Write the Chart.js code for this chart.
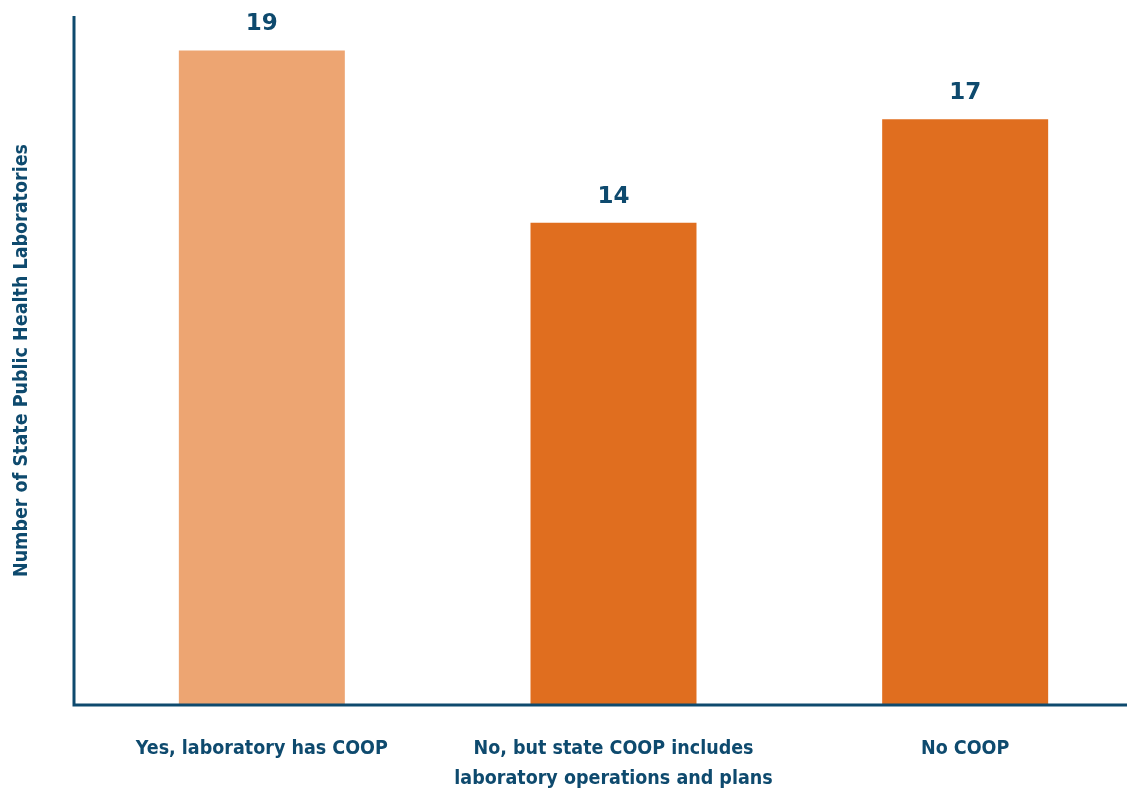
<!DOCTYPE html>
<html>
<head>
<meta charset="utf-8">
<script src="https://cdn.jsdelivr.net/npm/chart.js@4"></script>
<style>
  html, body { margin: 0; padding: 0; background: #fff; overflow: hidden; }
  #wrap { width: 1150px; height: 788px; }
</style>
</head>
<body>
<div id="wrap"><canvas id="myChart" width="1150" height="788"></canvas></div>
<script>
var categorias = [
  "Yes, laboratory has COOP",
  ["No, but state COOP includes", "laboratory operations and plans"],
  "No COOP"
];
var laboratorios = [19, 14, 17];
var cores = ["#EDA572", "#E06E1F", "#E06E1F"];
var tituloY = "Number of State Public Health Laboratories";

var azul = "#0E4A6E";
var fonteEstreita = "'Liberation Sans Narrow', 'DejaVu Sans Condensed', 'Arial Narrow', sans-serif";

// eixos desenhados a mao: o eixo Y fica um pouco a esquerda da area das barras
var eixos = {
  id: 'eixos',
  afterDraw: function(chart) {
    var ctx = chart.ctx;
    var area = chart.chartArea;
    var x0 = area.left - 12;
    ctx.save();
    ctx.strokeStyle = azul;
    ctx.lineWidth = 3;
    ctx.beginPath();
    ctx.moveTo(x0, area.top);
    ctx.lineTo(x0, area.bottom);
    ctx.lineTo(chart.width, area.bottom);
    ctx.stroke();
    ctx.restore();
  }
};

// numeros em cima das barras
var rotulos = {
  id: 'rotulos',
  afterDatasetsDraw: function(chart) {
    var ctx = chart.ctx;
    var meta = chart.getDatasetMeta(0);
    ctx.save();
    ctx.fillStyle = azul;
    ctx.font = "bold 23px 'DejaVu Sans'";
    ctx.textAlign = "center";
    ctx.textBaseline = "middle";
    meta.data.forEach(function(bar, i) {
      ctx.fillText(String(chart.data.datasets[0].data[i]), bar.x, bar.y - 26);
    });
    ctx.restore();
  }
};

var ctx = document.getElementById("myChart").getContext('2d');
var myChart = new Chart(ctx, {
  type: 'bar',
  data: {
    labels: categorias,
    datasets: [{
      label: "laboratorios",
      backgroundColor: cores,
      data: laboratorios,
      barPercentage: 0.472,
      categoryPercentage: 1
    }]
  },
  options: {
    responsive: false,
    animation: false,
    layout: { padding: { top: 16, right: 9, left: 0, bottom: 0 } },
    plugins: {
      legend: { display: false },
      tooltip: { enabled: false }
    },
    scales: {
      x: {
        grid: { display: false, drawTicks: false },
        border: { display: false },
        ticks: {
          color: azul,
          padding: 29,
          maxRotation: 0,
          autoSkip: false,
          font: { family: fonteEstreita, weight: 'bold', size: 19.5, lineHeight: 1.54 }
        },
        afterFit: function(scale) { scale.height = 83; }
      },
      y: {
        min: 0,
        max: 20,
        grid: { display: false, drawTicks: false },
        border: { display: false },
        ticks: { display: false },
        title: {
          display: true,
          text: tituloY,
          color: azul,
          padding: { top: 10, bottom: 0 },
          font: { family: fonteEstreita, weight: 'bold', size: 19.5 }
        },
        afterFit: function(scale) { scale.width = 86; }
      }
    }
  },
  plugins: [eixos, rotulos]
});
</script>
</body>
</html>
